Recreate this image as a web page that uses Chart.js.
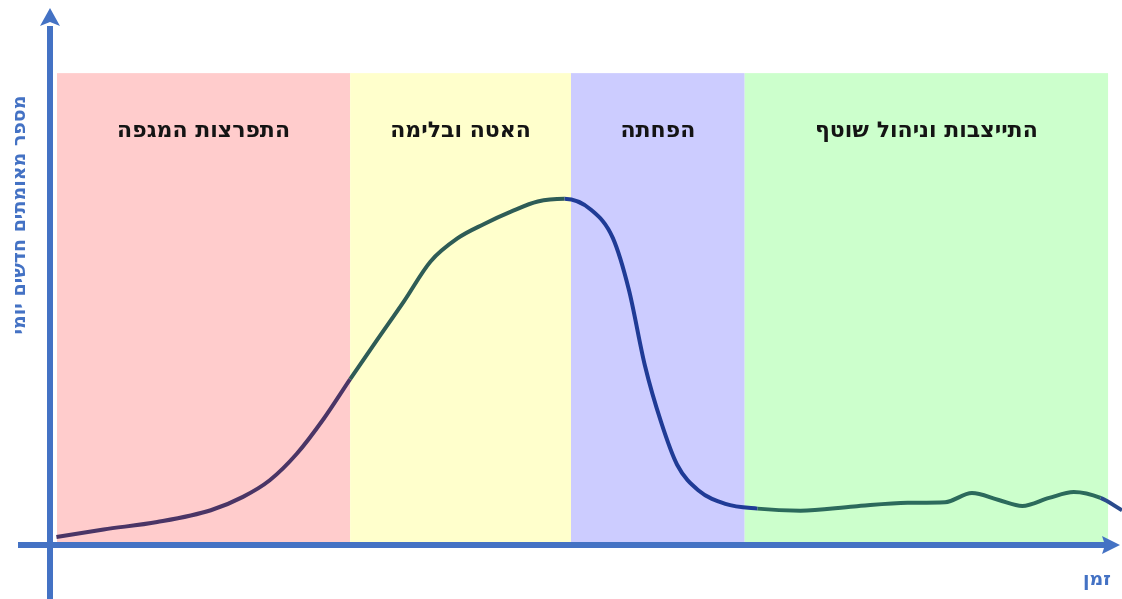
<!DOCTYPE html>
<html lang="he">
<head>
<meta charset="utf-8">
<script src="https://cdn.jsdelivr.net/npm/chart.js@4"></script>
<style>
  html, body { margin: 0; padding: 0; background: #fff; }
  #wrap { width: 1122px; height: 599px; position: relative; }
</style>
</head>
<body>
<div id="wrap"><canvas id="phases"></canvas></div>
<script>
// time (arbitrary units) and daily new confirmed cases (arbitrary units)
const timeVals = [0.6, 5, 10, 15, 18, 20.5, 23, 25.5, 28, 30.5, 33, 35.5, 38, 40.5, 43, 45.5, 48, 50.5, 52.5, 54, 55.5, 57, 58.5, 60.5, 63, 66, 70, 75, 80, 83.5, 86, 88.5, 90.7, 93.2, 95.5, 98, 100];
const caseVals = [1.5, 2.9, 4.3, 6.5, 9.0, 12.1, 17.0, 23.5, 31.0, 38.3, 45.5, 53.0, 57.3, 60.0, 62.3, 64.2, 64.7, 62.6, 57.4, 47.7, 33.5, 23.0, 15.0, 10.2, 7.7, 6.8, 6.4, 7.2, 7.9, 8.0, 9.7, 8.4, 7.3, 8.8, 9.9, 8.8, 6.5];

// phases
const phaseNames = ["התפרצות המגפה", "האטה ובלימה", "הפחתה", "התייצבות וניהול שוטף"];
const phaseStart = [0.65, 28.0, 48.6, 64.8];
const phaseEnd = [28.0, 48.6, 64.8, 98.7];
const phaseTop = 88.2;
const phaseFill = ["#ffcccc", "#ffffcc", "#ccccff", "#ccffcc"];
const lineColors = ["#4a3566", "#2e5c56", "#1f3b96", "#2c6a5c", "#2a4a8c"];

const axisBlue = "#4472c4";
const fontFam = "'DejaVu Sans', 'Liberation Sans', Arial, sans-serif";

const points = timeVals.map((t, i) => ({ x: t, y: caseVals[i] }));

function colorAt(x) {
  for (let i = 0; i < phaseStart.length; i++) {
    if (x >= phaseStart[i] && x < phaseEnd[i]) return lineColors[i];
  }
  return x < phaseStart[0] ? lineColors[0] : lineColors[4];
}

const phasePlugin = {
  id: "phases",
  beforeDatasetsDraw(chart) {
    const { ctx, scales: { x, y } } = chart;
    ctx.save();
    phaseNames.forEach((name, i) => {
      const l = x.getPixelForValue(phaseStart[i]);
      const r = x.getPixelForValue(phaseEnd[i]);
      const t = y.getPixelForValue(phaseTop);
      const b = y.getPixelForValue(0);
      ctx.fillStyle = phaseFill[i];
      ctx.fillRect(l, t, r - l, b - t);
      ctx.fillStyle = "#141414";
      ctx.font = "bold 22px " + fontFam;
      ctx.textAlign = "center";
      ctx.textBaseline = "middle";
      ctx.fillText(name, (l + r) / 2, t + 58);
    });
    ctx.restore();
  },
  afterDatasetsDraw(chart) {
    const { ctx, scales: { x, y } } = chart;
    const x0 = x.getPixelForValue(0);
    const y0 = y.getPixelForValue(0);
    ctx.save();
    ctx.strokeStyle = axisBlue;
    ctx.fillStyle = axisBlue;
    ctx.lineWidth = 6;
    // x axis
    ctx.beginPath();
    ctx.moveTo(18, y0);
    ctx.lineTo(1106, y0);
    ctx.stroke();
    ctx.beginPath();
    ctx.moveTo(1120, y0);
    ctx.lineTo(1102, y0 - 9);
    ctx.lineTo(1105, y0);
    ctx.lineTo(1102, y0 + 9);
    ctx.closePath();
    ctx.fill();
    // y axis
    ctx.beginPath();
    ctx.moveTo(x0, 599);
    ctx.lineTo(x0, 26);
    ctx.stroke();
    ctx.beginPath();
    ctx.moveTo(x0, 8);
    ctx.lineTo(x0 - 10, 26);
    ctx.lineTo(x0, 22);
    ctx.lineTo(x0 + 10, 26);
    ctx.closePath();
    ctx.fill();
    // axis titles
    ctx.font = "bold 19px " + fontFam;
    ctx.textAlign = "center";
    ctx.textBaseline = "middle";
    ctx.fillText("זמן", 1097, 580);
    ctx.translate(20, 215);
    ctx.rotate(-Math.PI / 2);
    ctx.fillText("מספר מאומתים חדשים יומי", 0, 0);
    ctx.restore();
  }
};

new Chart(document.getElementById("phases"), {
  type: "line",
  data: {
    datasets: [{
      data: points,
      borderWidth: 4,
      pointRadius: 0,
      cubicInterpolationMode: "monotone",
      segment: {
        borderColor: c => colorAt((c.p0.parsed.x + c.p1.parsed.x) / 2)
      },
      borderColor: lineColors[0],
      fill: false
    }]
  },
  options: {
    responsive: true,
    maintainAspectRatio: false,
    animation: false,
    layout: { padding: { left: 50, right: 0, top: 10, bottom: 54 } },
    plugins: { legend: { display: false }, tooltip: { enabled: false } },
    scales: {
      x: { type: "linear", min: 0, max: 100, display: false },
      y: { min: 0, max: 100, display: false }
    }
  },
  plugins: [phasePlugin]
});
</script>
</body>
</html>
